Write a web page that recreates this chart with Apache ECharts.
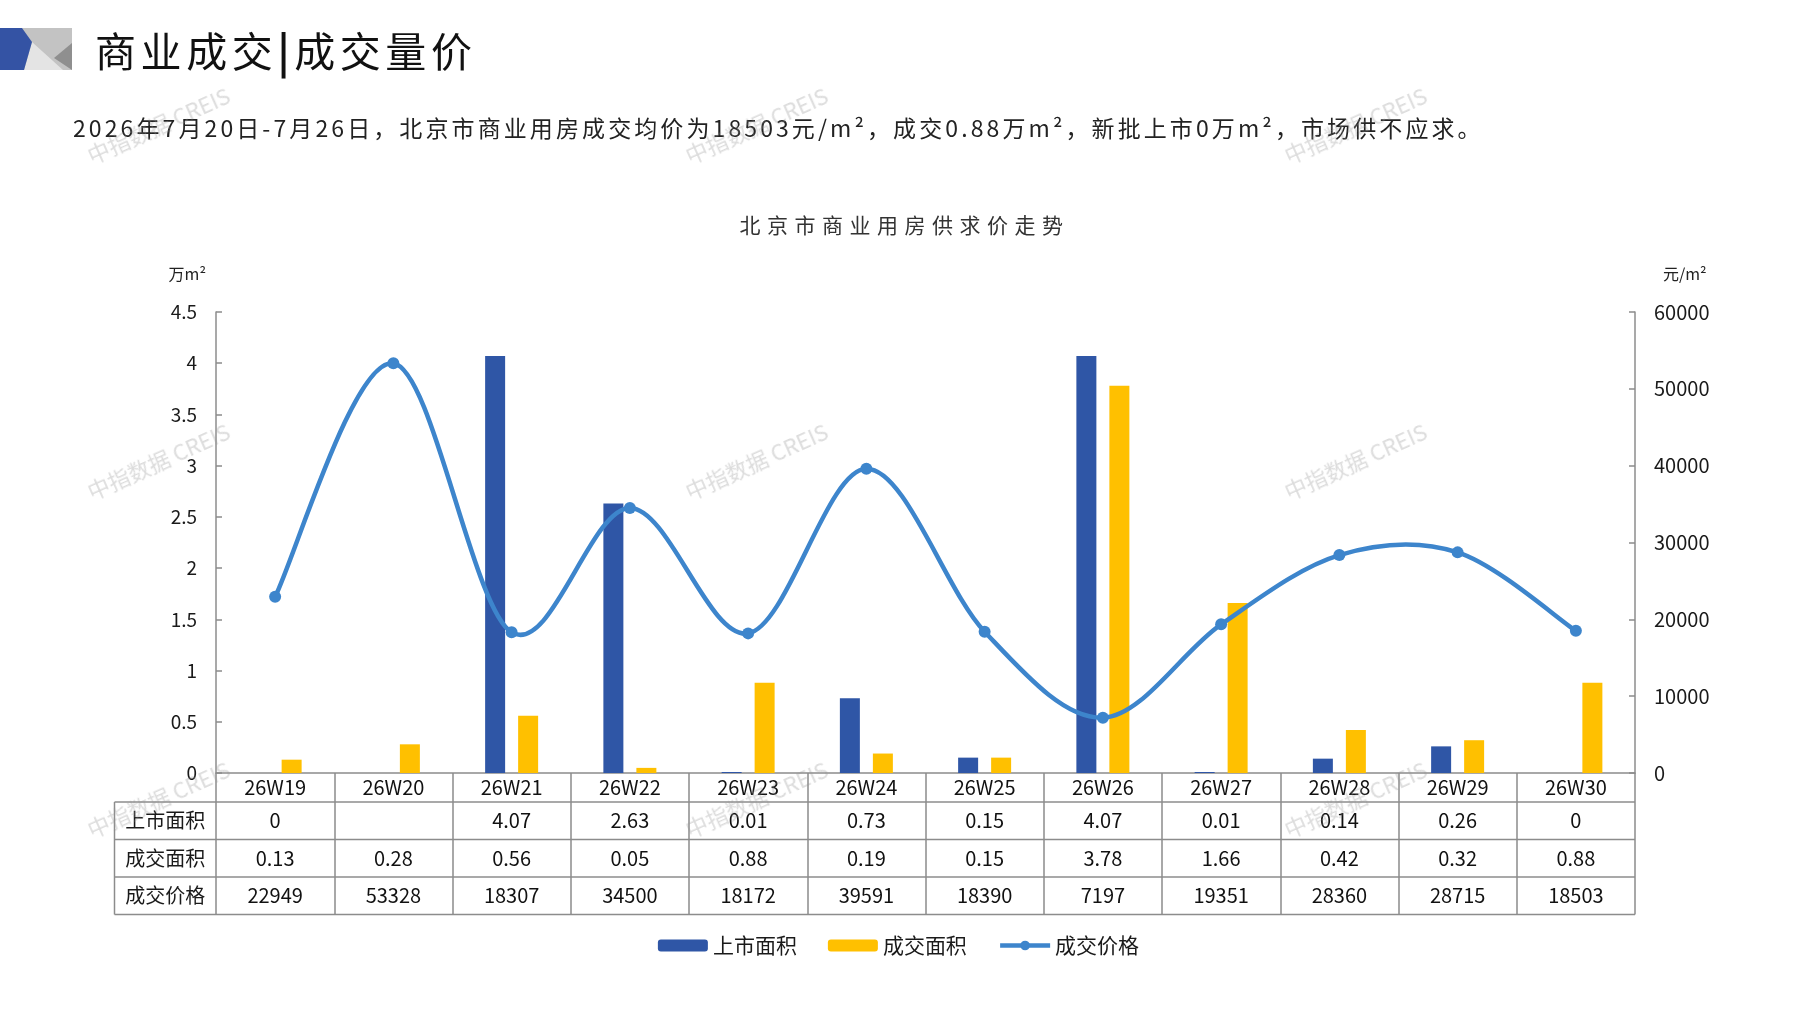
<!DOCTYPE html>
<html>
<head>
<meta charset="utf-8">
<title>商业成交|成交量价</title>
<script src="https://cdn.jsdelivr.net/npm/echarts@6/dist/echarts.min.js"></script>
<style>
  body { margin: 0; background: #fff; font-family: "Noto Sans CJK SC", "Noto Sans", sans-serif; }
  #wrap { position: relative; width: 1797px; height: 1010px; overflow: hidden; }
  #main { position: absolute; left: 0; top: 0; width: 1797px; height: 1010px; }
  .txt { position: absolute; white-space: nowrap; color: #1a1a1a; pointer-events: none; }
  #page_title { left: 95px; top: 25px; font-size: 41px; line-height: 48px; letter-spacing: 4.6px; color: #111; }
  #page_title b { font-weight: 700; }
  #sub_title { left: 73px; top: 112px; font-size: 23px; line-height: 31px; letter-spacing: 3.1px; color: #222; }
  #chart_title { left: 0; width: 1797px; text-align: center; top: 210px; font-size: 21px; line-height: 29px; letter-spacing: 6.5px; padding-left: 6px; color: #333; }
  .wm { position: absolute; font-size: 22px; color: rgba(150,150,150,0.33); transform: translate(-50%, -50%) rotate(-24deg); white-space: nowrap; pointer-events: none; font-family: "Noto Sans CJK SC", sans-serif; }
</style>
</head>
<body>
<div id="wrap">
  <div id="main"></div>
  <div class="txt" id="page_title">商业成交<b>|</b>成交量价</div>
  <div class="txt" id="sub_title">2026年7月20日-7月26日，北京市商业用房成交均价为18503元/m²，成交0.88万m²，新批上市0万m²，市场供不应求。</div>
  <div class="txt" id="chart_title">北京市商业用房供求价走势</div>
</div>
<script>
// data
var weeks = ['26W19', '26W20', '26W21', '26W22', '26W23', '26W24', '26W25', '26W26', '26W27', '26W28', '26W29', '26W30'];
var supply_area = [0, null, 4.07, 2.63, 0.01, 0.73, 0.15, 4.07, 0.01, 0.14, 0.26, 0];
var deal_area = [0.13, 0.28, 0.56, 0.05, 0.88, 0.19, 0.15, 3.78, 1.66, 0.42, 0.32, 0.88];
var deal_price = [22949, 53328, 18307, 34500, 18172, 39591, 18390, 7197, 19351, 28360, 28715, 18503];
var row_names = ['上市面积', '成交面积', '成交价格'];
var area_axis = { min: 0, max: 4.5, interval: 0.5 };
var price_axis = { min: 0, max: 60000, interval: 10000 };

// layout
var GRID_L = 216, GRID_R = 1635, GRID_T = 312, GRID_B = 773;
var TABLE_L = 114.5;
var ROW_H0 = 29, ROW_H = 37.5;
var row_y = [GRID_B + ROW_H0, GRID_B + ROW_H0 + ROW_H, GRID_B + ROW_H0 + ROW_H * 2, GRID_B + ROW_H0 + ROW_H * 3];
var LINE_C = '#8c8c8c';
var PRICE_C = '#3d85cc';
var FONT = '"Noto Sans CJK SC", "Noto Sans", sans-serif';

// watermarks
var wm_x = [158, 756, 1355], wm_y = [124, 460, 798];
var wrap = document.getElementById('wrap');
wm_y.forEach(function (y) {
  wm_x.forEach(function (x) {
    var d = document.createElement('div');
    d.className = 'wm';
    d.style.left = x + 'px';
    d.style.top = y + 'px';
    d.textContent = '中指数据 CREIS';
    wrap.appendChild(d);
  });
});

function cell(v) {
  return (v === null || v === undefined) ? ' ' : String(v);
}

// excel-like smoothed curve (catmull-rom -> bezier) through pixel points
function smooth_path(pts) {
  var d = 'M' + pts[0][0] + ' ' + pts[0][1];
  for (var i = 0; i < pts.length - 1; i++) {
    var p0 = pts[i - 1] || pts[i], p1 = pts[i], p2 = pts[i + 1], p3 = pts[i + 2] || pts[i + 1];
    var c1x = p1[0] + (p2[0] - p0[0]) / 6, c1y = p1[1] + (p2[1] - p0[1]) / 6;
    var c2x = p2[0] - (p3[0] - p1[0]) / 6, c2y = p2[1] - (p3[1] - p1[1]) / 6;
    d += ' C' + c1x + ' ' + c1y + ' ' + c2x + ' ' + c2y + ' ' + p2[0] + ' ' + p2[1];
  }
  return d;
}

var graphics = [
  // header icon
  { type: 'polygon', shape: { points: [[22, 28], [72, 28], [72, 70], [22, 70]] }, style: { fill: '#c3c3c3' } },
  { type: 'polygon', shape: { points: [[72, 43], [72, 70], [54, 58]] }, style: { fill: '#8f8f8f' } },
  { type: 'polygon', shape: { points: [[32, 42], [63, 70], [24, 70]] }, style: { fill: '#e4e4e4' } },
  { type: 'polygon', shape: { points: [[0, 28], [22, 28], [32, 42], [24, 70], [0, 70]] }, style: { fill: '#3453a4' } }
];
// table borders
row_y.forEach(function (y) {
  graphics.push({ type: 'line', shape: { x1: TABLE_L, y1: y, x2: GRID_R, y2: y }, style: { stroke: LINE_C, lineWidth: 1.5 } });
});
graphics.push({ type: 'line', shape: { x1: TABLE_L, y1: row_y[0], x2: TABLE_L, y2: row_y[3] }, style: { stroke: LINE_C, lineWidth: 1.5 } });
row_names.forEach(function (name, i) {
  graphics.push({
    type: 'text', x: (TABLE_L + GRID_L) / 2, y: (row_y[i] + row_y[i + 1]) / 2,
    style: { text: name, fontSize: 20, fontFamily: FONT, fill: '#1a1a1a', align: 'center', verticalAlign: 'middle' }
  });
});

var chart = echarts.init(document.getElementById('main'));

chart.setOption({
  textStyle: { fontFamily: FONT },
  animation: false,
  grid: {
    left: GRID_L, right: 1797 - GRID_R, top: GRID_T, bottom: 1010 - GRID_B,
    containLabel: false, outerBoundsMode: 'none'
  },
  legend: {
    left: 'center',
    top: 930,
    itemWidth: 50,
    itemHeight: 12,
    itemGap: 31,
    textStyle: { fontSize: 21, color: '#1a1a1a', fontFamily: FONT },
    data: ['上市面积', '成交面积', {
      name: '成交价格',
      lineStyle: { width: 4.5, opacity: 1, color: PRICE_C }
    }]
  },
  xAxis: [{
    type: 'category',
    data: weeks,
    boundaryGap: true,
    axisLine: { lineStyle: { color: LINE_C, width: 1.5 } },
    axisTick: { show: true, interval: 0, length: row_y[3] - GRID_B, lineStyle: { color: LINE_C, width: 1.5 } },
    axisLabel: {
      interval: 0,
      margin: 0,
      formatter: function (v, i) {
        return '{c|' + v + '}\n{v|' + cell(supply_area[i]) + '}\n{v|' + cell(deal_area[i]) + '}\n{v|' + cell(deal_price[i]) + '}';
      },
      rich: {
        c: { fontSize: 20, lineHeight: ROW_H0, color: '#111', fontFamily: FONT },
        v: { fontSize: 20, lineHeight: ROW_H, color: '#111', fontFamily: FONT }
      }
    }
  }],
  yAxis: [{
    type: 'value',
    min: area_axis.min, max: area_axis.max, interval: area_axis.interval,
    name: '万m²',
    nameLocation: 'end',
    nameGap: 30,
    nameTextStyle: { fontSize: 16, color: '#222', align: 'right', padding: [0, 10, 0, 0] },
    axisLine: { show: true, lineStyle: { color: LINE_C, width: 1.5 } },
    axisTick: { show: true, inside: true, length: 6, lineStyle: { color: LINE_C, width: 1.5 } },
    axisLabel: { margin: 19, fontSize: 19, color: '#1a1a1a' },
    splitLine: { show: false }
  }, {
    type: 'value',
    min: price_axis.min, max: price_axis.max, interval: price_axis.interval,
    name: '元/m²',
    nameLocation: 'end',
    nameGap: 30,
    nameTextStyle: { fontSize: 16, color: '#222', align: 'left', padding: [0, 0, 0, 28] },
    axisLine: { show: true, lineStyle: { color: LINE_C, width: 1.5 } },
    axisTick: { show: true, inside: true, length: 6, lineStyle: { color: LINE_C, width: 1.5 } },
    axisLabel: { margin: 19, fontSize: 20, color: '#1a1a1a', formatter: function (v) { return String(v); } },
    splitLine: { show: false }
  }],
  series: [{
    name: '上市面积',
    type: 'bar',
    barWidth: 20,
    barGap: '65%',
    itemStyle: { color: '#2f56a6' },
    data: supply_area
  }, {
    name: '成交面积',
    type: 'bar',
    barWidth: 20,
    itemStyle: { color: '#ffc000' },
    data: deal_area
  }, {
    // curve of the price line, drawn from the axis scale
    name: '成交价格曲线',
    type: 'custom',
    yAxisIndex: 1,
    z: 4,
    silent: true,
    data: deal_price.map(function (v, i) { return [i, v]; }),
    renderItem: function (params, api) {
      if (params.dataIndex !== 0) return null;
      var pts = deal_price.map(function (v, i) { return api.coord([i, v]); });
      return {
        type: 'path',
        shape: { pathData: smooth_path(pts) },
        style: { fill: null, stroke: PRICE_C, lineWidth: 4.5, lineJoin: 'round', lineCap: 'round' }
      };
    }
  }, {
    name: '成交价格',
    type: 'line',
    yAxisIndex: 1,
    symbol: 'circle',
    symbolSize: 12,
    z: 5,
    itemStyle: { color: PRICE_C },
    lineStyle: { color: PRICE_C, width: 4.5, opacity: 0 },
    data: deal_price
  }],
  graphic: graphics
});
</script>
</body>
</html>
